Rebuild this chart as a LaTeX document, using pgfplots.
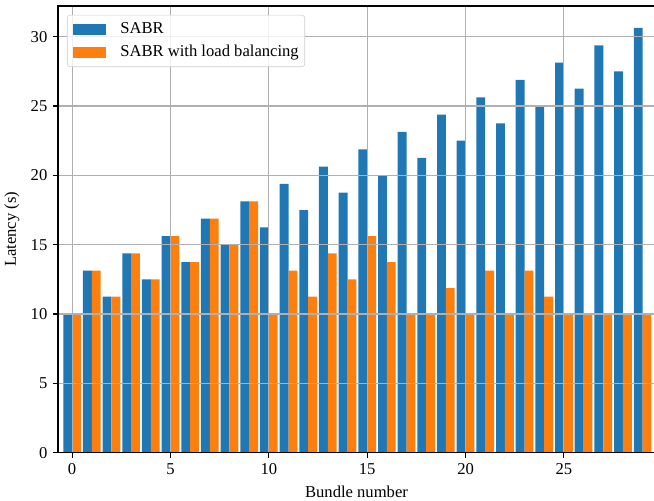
\documentclass[12pt,border=0pt]{standalone}
\usepackage{fontspec}
\setmainfont{Liberation Serif}
\usepackage{pgfplots}
\usepackage{pgfplotstable}
\pgfplotsset{compat=1.18}
\definecolor{mplblue}{HTML}{1F77B4}
\definecolor{mplorange}{HTML}{FF7F0E}
\definecolor{gridgray}{HTML}{B0B0B0}
\definecolor{legframe}{HTML}{CCCCCC}

\pgfplotstableread{
x sabr lb
0 10 10
1 13.125 13.125
2 11.25 11.25
3 14.375 14.375
4 12.5 12.5
5 15.625 15.625
6 13.75 13.75
7 16.875 16.875
8 15 15
9 18.125 18.125
10 16.25 10
11 19.375 13.125
12 17.5 11.25
13 20.625 14.375
14 18.75 12.5
15 21.875 15.625
16 20 13.75
17 23.125 10
18 21.25 10
19 24.375 11.875
20 22.5 10
21 25.625 13.125
22 23.75 10
23 26.875 13.125
24 25 11.25
25 28.125 10
26 26.25 10
27 29.375 10
28 27.5 10
29 30.625 10
}\datatable

\begin{document}
\begin{tikzpicture}
\begin{axis}[
  scale only axis,
  width=5.97in, height=4.467in,
  xmin=-0.717, xmax=29.63, ymin=0, ymax=32.21,
  xtick={0,5,...,25}, ytick={0,5,...,30},
  grid=major,
  major grid style={draw=gridgray, line width=0.8bp},
  axis on top,
  axis line style={line width=0.8bp, black},
  tick align=outside,
  major tick length=3.5bp,
  every tick/.style={black, line width=0.8bp},
  tick pos=left,
  ybar, bar width=0.45,
  font=\fontsize{12}{14}\selectfont,
  xlabel={Bundle number}, ylabel={Latency (s)},
  /pgf/number format/assume math mode=true,
  legend image code/.code={\fill[#1, fill opacity=1, sharp corners] (0em,-0.33em) rectangle (2em,0.33em);},
  legend style={at={(0.015,0.98)}, anchor=north west, draw=legframe,
    rounded corners=2bp, fill=white, fill opacity=0.8, text opacity=1,
    inner xsep=4.3bp, inner ysep=2bp, column sep=10bp, row sep=0pt,
    font=\fontsize{12}{14}\selectfont,
    nodes={inner xsep=0pt, inner ysep=2.3bp, text height=0.75em, text depth=0.25em}},
  legend cell align=left,
]
\addplot[fill=mplblue, draw=none, bar shift=-0.225] table[x=x,y=sabr]{\datatable};
\addplot[fill=mplorange, draw=none, bar shift=0.225] table[x=x,y=lb]{\datatable};
\legend{SABR, SABR with load balancing}
\end{axis}
\pgfresetboundingbox
\path[use as bounding box] ([xshift=-0.58in,yshift=-0.483in]current axis.south west) rectangle ([xshift=-0.01in,yshift=0.06in]current axis.north east);
\end{tikzpicture}
\end{document}
